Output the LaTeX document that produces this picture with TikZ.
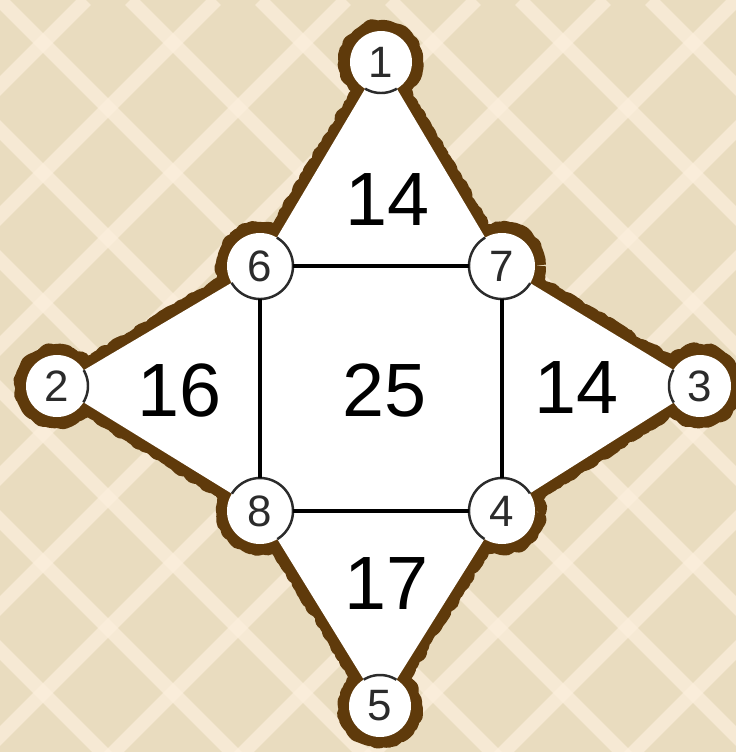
\documentclass[tikz,border=0pt]{standalone}
\usepackage{fontspec}
\setmainfont{Liberation Sans}
\usetikzlibrary{positioning,decorations.pathmorphing}
\definecolor{rimbrown}{HTML}{5F3A0B}
\definecolor{wallcream}{HTML}{FCEFDD}
\definecolor{walltan}{HTML}{E9DCBF}
\definecolor{inkgray}{HTML}{2B2B2B}

\begin{document}
\begin{tikzpicture}[
    x=0.02cm, y=-0.02cm,
    vertex/.style={circle, inner sep=0pt, minimum size=1.22cm, font=\fontsize{25}{25}\selectfont, text=inkgray},
    hubvertex/.style={vertex, minimum size=1.3cm},
    facelabel/.style={inner sep=0pt, font=\fontsize{43}{43}\selectfont},
    sideline/.style={line width=2pt, color=black},
    ringline/.style={draw=inkgray, line width=1.4pt},
    rimline/.style={draw=rimbrown, line width=0.44cm, line join=round, decorate, decoration={random steps, segment length=2pt, amplitude=1.1pt}},
    trellis/.style={draw=wallcream, line width=0.28cm, opacity=0.7}
]
    \pgfmathsetseed{11}
    \useasboundingbox (0,0) rectangle (736,752);

    % Wallpaper
    \begin{scope}
        \clip (0,0) rectangle (736,752);
        \fill[walltan] (0,0) rectangle (736,752);
        \foreach \c in {-780,-650,...,780}{
            \draw[trellis] (\c,0) -- ++(800,800);
            \draw[trellis] (\c+736,0) -- ++(-800,800);
        }
    \end{scope}

    % Star points
    \coordinate (P1) at (381,62);
    \coordinate (P2) at (57,386);
    \coordinate (P3) at (700,386);
    \coordinate (P4) at (502,511);
    \coordinate (P5) at (380,706);
    \coordinate (P6) at (260,266);
    \coordinate (P7) at (502,266);
    \coordinate (P8) at (260,511);

    % Brown rim, then white body
    \path[rimline] (P1) -- (P7) -- (P3) -- (P4) -- (P5) -- (P8) -- (P2) -- (P6) -- cycle;
    \foreach \p/\r in {P1/31,P2/31,P3/31,P5/31,P4/33,P6/33,P7/33,P8/33}
        \path[rimline] (\p) circle[radius=\r];
    \fill[white] (P1) -- (P7) -- (P3) -- (P4) -- (P5) -- (P8) -- (P2) -- (P6) -- cycle;
    \foreach \p/\r in {P1/31,P2/31,P3/31,P5/31,P4/33,P6/33,P7/33,P8/33}
        \fill[white] (\p) circle[radius=\r];

    % Circle rings, only inside the body
    \begin{scope}
        \clip (P1) -- (P7) -- (P3) -- (P4) -- (P5) -- (P8) -- (P2) -- (P6) -- cycle;
        \foreach \p/\r in {P1/31,P2/31,P3/31,P5/31,P4/33,P6/33,P7/33,P8/33}
            \draw[ringline] (\p) circle[radius=\r];
    \end{scope}

    % Vertices
    \node[vertex] (V1) at (P1) {1};
    \node[vertex] (V2) at (P2) {2};
    \node[vertex] (V3) at (P3) {3};
    \node[hubvertex] (V4) at (P4) {4};
    \node[vertex] (V5) at (P5) {5};
    \node[hubvertex] (V6) at (P6) {6};
    \node[hubvertex] (V7) at (P7) {7};
    \node[hubvertex] (V8) at (P8) {8};

    % Square
    \draw[sideline] (V6) -- (V7);
    \draw[sideline] (V7) -- (V4);
    \draw[sideline] (V4) -- (V8);
    \draw[sideline] (V8) -- (V6);

    % Face sums
    \node[facelabel] (FT) at (388,200) {14};
    \node[facelabel] (FL) at (180,390) {16};
    \node[facelabel] (FM) at (385,390) {25};
    \node[facelabel] (FR) at (577,388) {14};
    \node[facelabel] (FB) at (387,584) {17};
\end{tikzpicture}
\end{document}
